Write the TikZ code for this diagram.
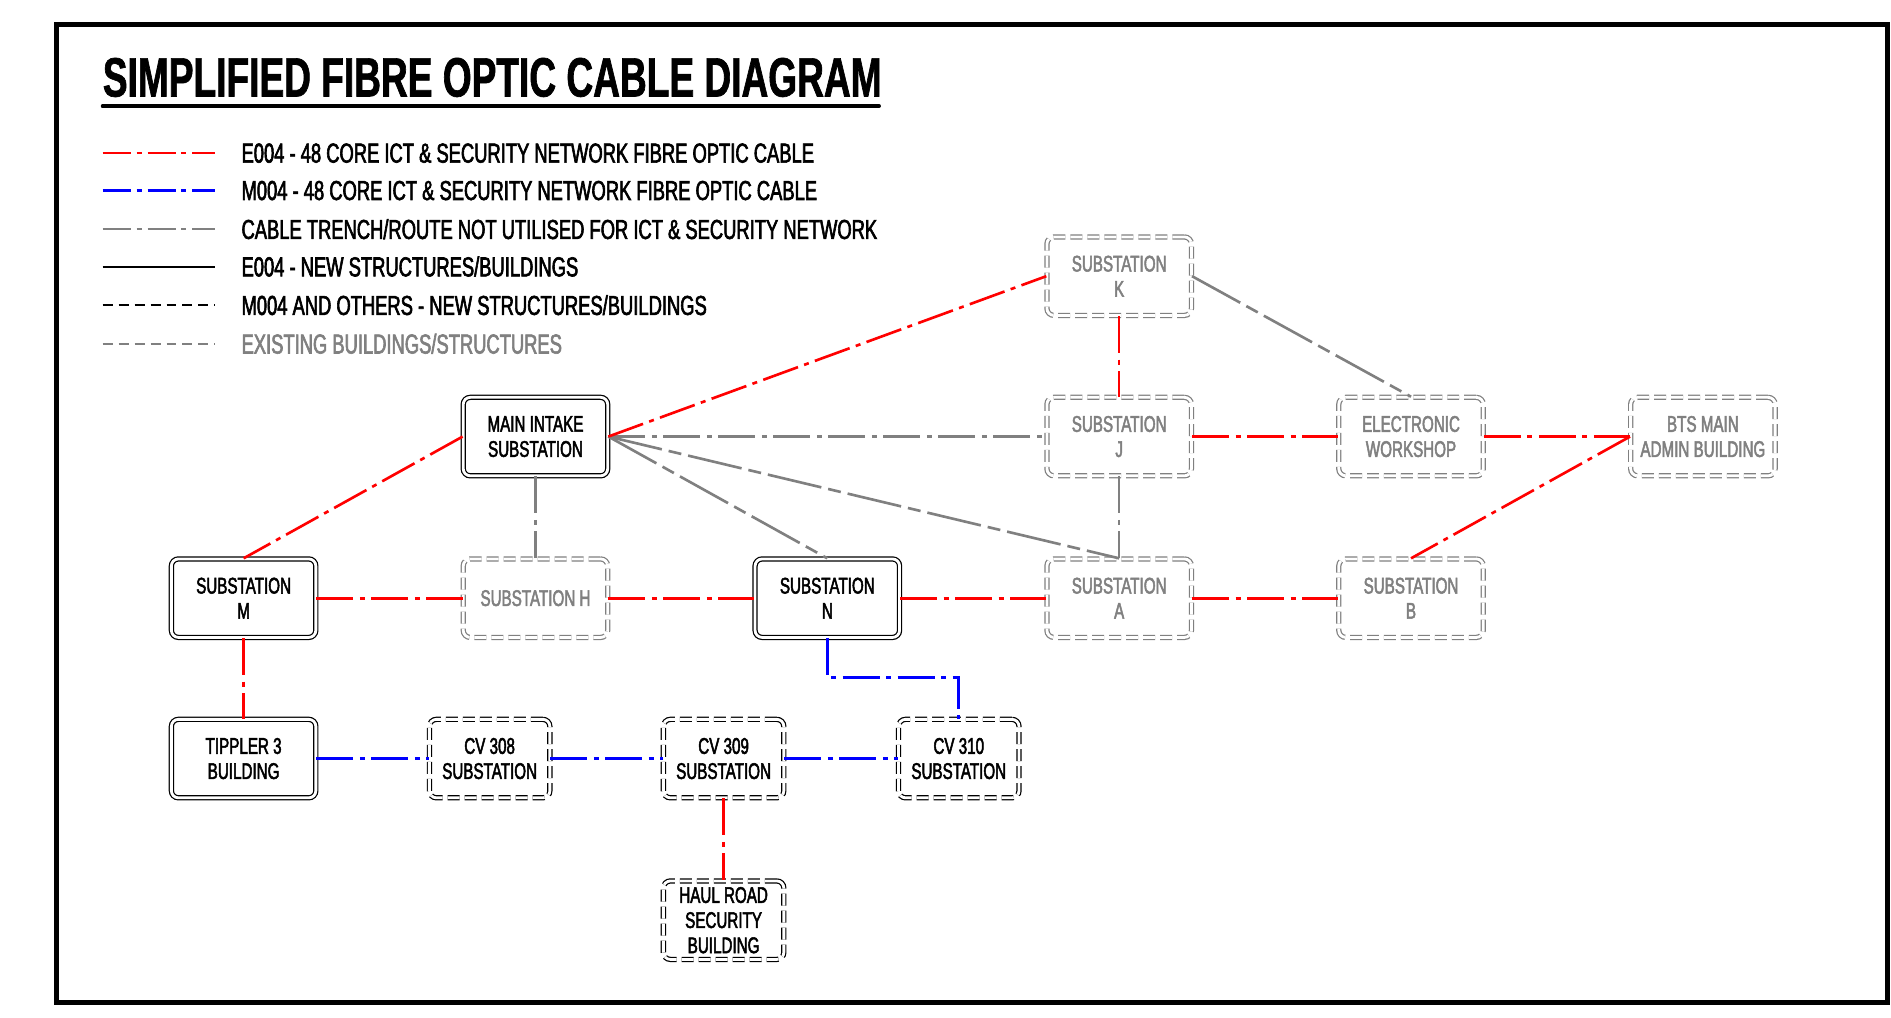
\documentclass[tikz,border=0pt]{standalone}
\usepackage{fontspec}
\setmainfont{Liberation Sans}[FakeStretch=0.67]
\newfontfamily\foheavy{Liberation Sans}[FakeStretch=0.67, FakeBold=2.2]
\newfontfamily\fotitlefont{Liberation Sans Bold}[FakeStretch=0.67, FakeBold=1.2]
\usepackage{tikz}
\usepackage{xcolor}
\colorlet{foRed}{red}
\colorlet{foBlue}{blue}
\colorlet{foGrey}{black!50}
\colorlet{foLine}{black}
\tikzset{
  fobox/.style={
    rectangle, rounded corners=4pt, draw=foLine, fill=white,
    double=white, double distance=1.6pt, line width=0.7pt,
    minimum width=2.89cm, minimum height=1.57cm, align=center,
    font=\foheavy\fontsize{12.9}{14.3}\selectfont, inner sep=1pt
  },
  fonew/.style={fobox},
  fonewm/.style={fobox, dash pattern=on 0.24cm off 0.1cm},
  foold/.style={fobox, draw=foGrey, text=foGrey, dash pattern=on 0.24cm off 0.1cm},
  fonarrow/.style={minimum width=2.41cm},
  focable/.style={line width=1.5pt, dash pattern=on 0.74cm off 0.13cm on 0.1cm off 0.13cm},
  fored/.style={focable, draw=foRed},
  foblue/.style={focable, draw=foBlue},
  fogrey/.style={focable, draw=foGrey},
  fogreylong/.style={fogrey, dash pattern=on 1.1cm off 0.14cm on 0.26cm off 0.14cm},
  folegend/.style={anchor=west, inner sep=0pt, font=\foheavy\fontsize{15.6}{17}\selectfont},
  fotitle/.style={anchor=base west, inner sep=0pt, font=\fotitlefont\fontsize{31.5}{34}\selectfont}
}

\begin{document}
\begin{tikzpicture}[x=0.02412cm,y=-0.02412cm]
  \useasboundingbox (0,0) rectangle (1568,844);
  \draw[line width=2.8pt] (47,20) rectangle (1565,831);

  % title and legend
  \node[fotitle] (title) at (85,80) {SIMPLIFIED FIBRE OPTIC CABLE DIAGRAM};
  \draw[line width=2pt, line cap=round] (85,88) -- (729,88);

  \draw[fored, dash pattern=on 0.56cm off 0.12cm on 0.1cm off 0.12cm] (85,127) -- (178,127);
  \draw[foblue, dash pattern=on 0.56cm off 0.12cm on 0.1cm off 0.12cm] (85,158) -- (178,158);
  \draw[fogrey, dash pattern=on 0.56cm off 0.12cm on 0.1cm off 0.12cm] (85,190) -- (178,190);
  \draw[line width=1.1pt] (85,221) -- (178,221);
  \draw[line width=1.1pt, dash pattern=on 0.2cm off 0.12cm] (85,253) -- (178,253);
  \draw[line width=1.1pt, draw=foGrey, dash pattern=on 0.2cm off 0.12cm] (85,285) -- (178,285);

  \node[folegend] (legE) at (200,127) {E004 - 48 CORE ICT \& SECURITY NETWORK FIBRE OPTIC CABLE};
  \node[folegend] (legM) at (200,158) {M004 - 48 CORE ICT \& SECURITY NETWORK FIBRE OPTIC CABLE};
  \node[folegend] (legT) at (200,190) {CABLE TRENCH/ROUTE NOT UTILISED FOR ICT \& SECURITY NETWORK};
  \node[folegend] (legNew) at (200,221) {E004 - NEW STRUCTURES/BUILDINGS};
  \node[folegend] (legOth) at (200,253) {M004 AND OTHERS - NEW STRUCTURES/BUILDINGS};
  \node[folegend, text=foGrey] (legOld) at (200,285) {EXISTING BUILDINGS/STRUCTURES};

  % buildings
  \node[fonew] (main) at (444,362) {MAIN INTAKE\\SUBSTATION};
  \node[foold] (subK) at (928,229) {SUBSTATION\\K};
  \node[foold] (subJ) at (928,362) {SUBSTATION\\J};
  \node[foold] (elec) at (1170,362) {ELECTRONIC\\WORKSHOP};
  \node[foold] (bts) at (1412,362) {BTS MAIN\\ADMIN BUILDING};
  \node[fonew] (subM) at (202,496) {SUBSTATION\\M};
  \node[foold] (subH) at (444,496) {SUBSTATION H};
  \node[fonew] (subN) at (686,496) {SUBSTATION\\N};
  \node[foold] (subA) at (928,496) {SUBSTATION\\A};
  \node[foold] (subB) at (1170,496) {SUBSTATION\\B};
  \node[fonew] (tippler) at (202,629) {TIPPLER 3\\BUILDING};
  \node[fonewm, fonarrow] (cv308) at (406,629) {CV 308\\SUBSTATION};
  \node[fonewm, fonarrow] (cv309) at (600,629) {CV 309\\SUBSTATION};
  \node[fonewm, fonarrow] (cv310) at (795,629) {CV 310\\SUBSTATION};
  \node[fonewm, fonarrow] (haul) at (600,763) {HAUL ROAD\\SECURITY\\BUILDING};
  \coordinate (nbend) at (740,562);

  % routes not used
  \draw[fogrey] (main.east) -- (subJ.west);
  \draw[fogreylong] (main.east) -- (subN.north);
  \draw[fogreylong] (main.east) -- (subA.north);
  \draw[fogrey] (main.south) -- (subH.north);
  \draw[fogreylong] (subK.east) -- (elec.north);
  \draw[fogrey] (subJ.south) -- (subA.north);

  % E004 cable
  \draw[fored] (main.west) -- (subM.north);
  \draw[fored] (main.east) -- (subK.west);
  \draw[fored] (subK.south) -- (subJ.north);
  \draw[fored] (subJ.east) -- (elec.west);
  \draw[fored] (elec.east) -- (bts.west);
  \draw[fored] (bts.west) -- (subB.north);
  \draw[fored] (subM.east) -- (subH.west);
  \draw[fored] (subH.east) -- (subN.west);
  \draw[fored] (subN.east) -- (subA.west);
  \draw[fored] (subA.east) -- (subB.west);
  \draw[fored] (subM.south) -- (tippler.north);
  \draw[fored] (cv309.south) -- (haul.north);

  % M004 cable
  \draw[foblue] (subN.south) |- (nbend) -| (cv310.north);
  \draw[foblue] (tippler.east) -- (cv308.west);
  \draw[foblue] (cv308.east) -- (cv309.west);
  \draw[foblue] (cv309.east) -- (cv310.west);
\end{tikzpicture}
\end{document}
